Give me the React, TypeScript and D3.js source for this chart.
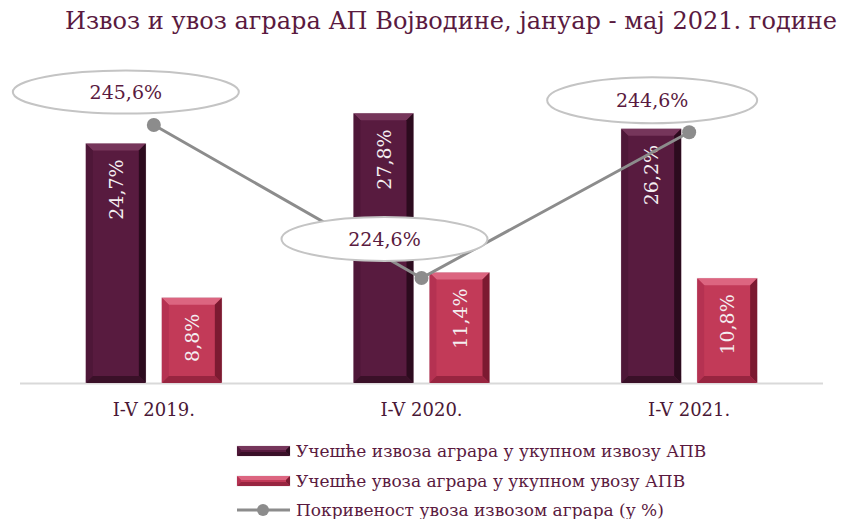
import React from "react";
import * as d3 from "d3";

const categories = ["I-V 2019.", "I-V 2020.", "I-V 2021."];
const exportShare = [24.7, 27.8, 26.2];
const importShare = [8.8, 11.4, 10.8];
const coverage = [245.6, 224.6, 244.6];
const exportLabels = ["24,7%", "27,8%", "26,2%"];
const importLabels = ["8,8%", "11,4%", "10,8%"];
const coverageLabels = ["245,6%", "224,6%", "244,6%"];
const legendLabels = [
  "Учешће извоза аграра у укупном извозу АПВ",
  "Учешће увоза аграра у укупном увозу АПВ",
  "Покривеност увоза извозом аграра (у %)",
];
const title = "Извоз и увоз аграра АП Војводине, јануар - мај 2021. године";

// label ellipse layout (offset from point, radii)
const ellipseLayout = [
  { dx: -28, dy: -33, rx: 113, ry: 21.5 },
  { dx: -37, dy: -39, rx: 103, ry: 22 },
  { dx: -37, dy: -32, rx: 105, ry: 23 },
];

const W = 841;
const H = 519;
const maroon = "#5a1a40";
const serif = "'DejaVu Serif', serif";

const darkPal = { main: "#581b3f", top: "#76365b", left: "#4e1738", right: "#2c0b1e", bottom: "#3a1028" };
const redPal = { main: "#c23a58", top: "#dc6580", left: "#b53252", right: "#7c1a31", bottom: "#982540" };

function BevelBar({ x, y, w, h, pal, bev = 7 }: { x: number; y: number; w: number; h: number; pal: any; bev?: number }) {
  const b = Math.min(bev, h / 2);
  const p = (pts: number[][]) => pts.map((q) => q.join(",")).join(" ");
  return (
    <g>
      <rect x={x} y={y} width={w} height={h} fill={pal.main} stroke="#e6dde2" strokeWidth={0.8} />
      <polygon points={p([[x, y], [x + w, y], [x + w - b, y + b], [x + b, y + b]])} fill={pal.top} />
      <polygon points={p([[x, y], [x + b, y + b], [x + b, y + h - b], [x, y + h]])} fill={pal.left} />
      <polygon points={p([[x + w, y], [x + w - b, y + b], [x + w - b, y + h - b], [x + w, y + h]])} fill={pal.right} />
      <polygon points={p([[x, y + h], [x + b, y + h - b], [x + w - b, y + h - b], [x + w, y + h]])} fill={pal.bottom} />
    </g>
  );
}

export default function App() {
  const x0 = d3.scaleBand<string>().domain(categories).range([20, 823]).paddingInner(0).paddingOuter(0);
  const bw = x0.bandwidth();
  const x1 = d3
    .scaleBand<string>()
    .domain(["exp", "imp"])
    .range([bw / 2 - 68, bw / 2 + 68])
    .paddingInner(16 / 76)
    .paddingOuter(0);
  const y = d3.scaleLinear().domain([0, 35]).range([383, 383 - 9.7 * 35]);
  const y2 = d3.scaleLinear().domain([220, 250]).range([311.5, 92.9]);

  const pts = coverage.map((v, i) => [x0(categories[i])! + bw / 2, y2(v)] as [number, number]);
  const line = d3.line();

  return (
    <svg width={W} height={H} style={{ position: "absolute", left: 0, top: 0, background: "#fff" }}>
      <text x={65} y={29} fontFamily={serif} fontSize={24} fill={maroon} textLength={772} lengthAdjust="spacingAndGlyphs">
        {title}
      </text>
      <line x1={20} x2={823} y1={383.5} y2={383.5} stroke="#d9d9d9" strokeWidth={2} />
      {categories.map((c, i) => {
        const bx = x0(c)!;
        const ex = bx + x1("exp")!;
        const ix = bx + x1("imp")!;
        const w = x1.bandwidth();
        const ey = y(exportShare[i]);
        const iy = y(importShare[i]);
        return (
          <g key={c}>
            <BevelBar x={ex} y={ey} w={w} h={y(0) - ey} pal={darkPal} />
            <BevelBar x={ix} y={iy} w={w} h={y(0) - iy} pal={redPal} />
            <text
              transform={`translate(${ex + w / 2 + 7},${ey + 16}) rotate(-90)`}
              textAnchor="end"
              fontFamily={serif}
              fontSize={19}
              fill="#f4eef1"
            >
              {exportLabels[i]}
            </text>
            <text
              transform={`translate(${ix + w / 2 + 7},${iy + 16}) rotate(-90)`}
              textAnchor="end"
              fontFamily={serif}
              fontSize={19}
              fill="#f4eef1"
            >
              {importLabels[i]}
            </text>
            <text x={bx + bw / 2} y={416} textAnchor="middle" fontFamily={serif} fontSize={18} fill="#4a1836">
              {c}
            </text>
          </g>
        );
      })}
      <path d={line(pts)!} fill="none" stroke="#8c8c8c" strokeWidth={3} />
      {pts.map((p, i) => (
        <circle key={i} cx={p[0]} cy={p[1]} r={7} fill="#8c8c8c" />
      ))}
      {pts.map((p, i) => {
        const L = ellipseLayout[i];
        return (
          <g key={"e" + i}>
            <ellipse cx={p[0] + L.dx} cy={p[1] + L.dy} rx={L.rx} ry={L.ry} fill="#fff" stroke="#c4c4c4" strokeWidth={2} />
            <text
              x={p[0] + L.dx}
              y={p[1] + L.dy + 7}
              textAnchor="middle"
              fontFamily={serif}
              fontSize={19}
              fill={maroon}
            >
              {coverageLabels[i]}
            </text>
          </g>
        );
      })}
      {legendLabels.map((lab, i) => {
        const ly = [451, 481, 510][i];
        return (
          <g key={lab}>
            {i < 2 ? (
              <BevelBar x={237} y={ly - 5} w={53} h={10} pal={i === 0 ? darkPal : redPal} bev={4} />
            ) : (
              <g>
                <line x1={237} x2={290} y1={ly} y2={ly} stroke="#8c8c8c" strokeWidth={3} />
                <circle cx={263} cy={ly} r={6} fill="#8c8c8c" />
              </g>
            )}
            <text x={296} y={ly + 6} fontFamily={serif} fontSize={17} fill={maroon}>
              {lab}
            </text>
          </g>
        );
      })}
    </svg>
  );
}
